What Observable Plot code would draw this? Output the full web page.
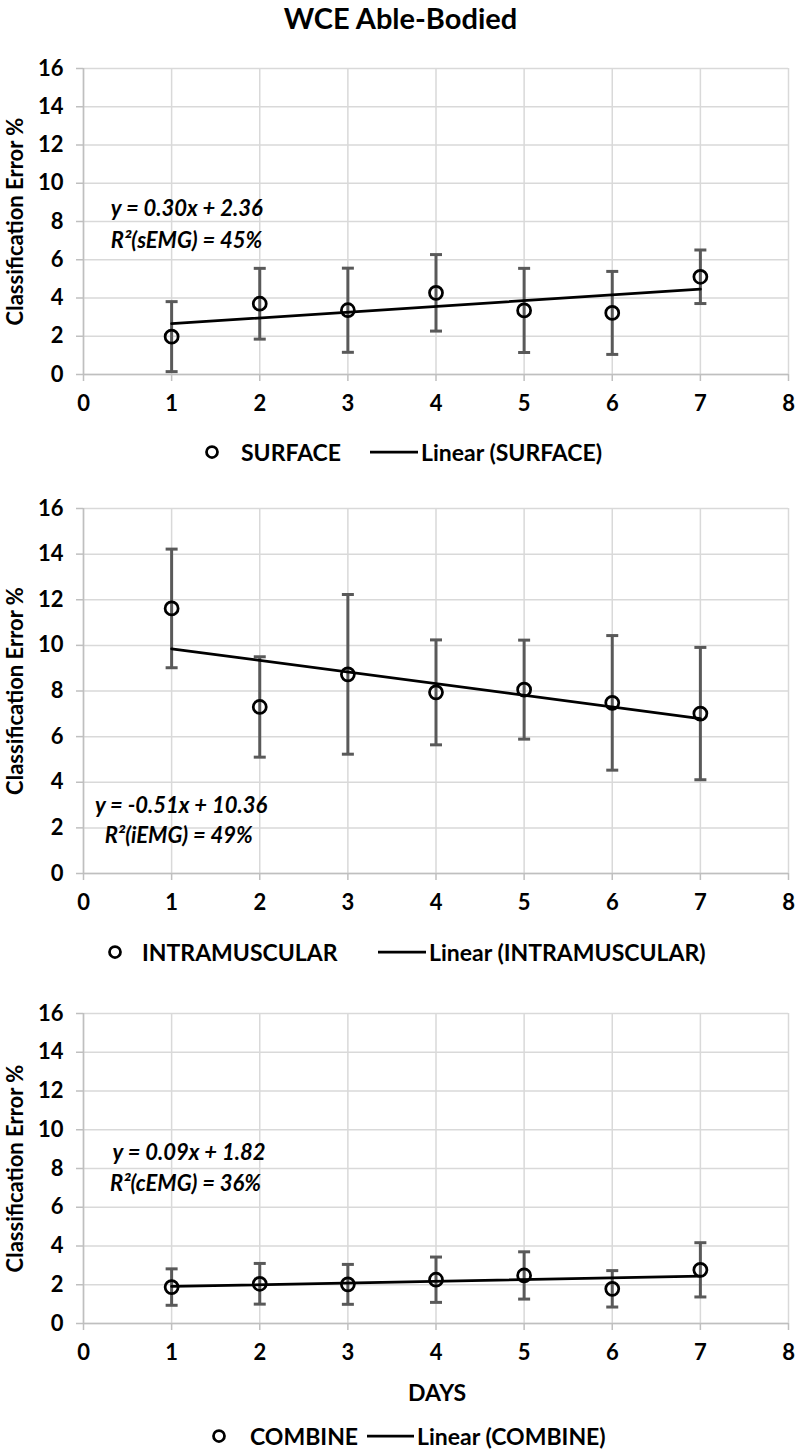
<!DOCTYPE html>
<html><head><meta charset="utf-8">
<script src="https://cdn.jsdelivr.net/npm/d3@7"></script>
<script src="https://cdn.jsdelivr.net/npm/@observablehq/plot@0.6"></script>
<style>
body{margin:0;background:#fff;font-family:Lato,"Open Sans",sans-serif;}
#root{position:relative;width:801px;height:1456px;overflow:hidden;background:#fff;}
.title{position:absolute;left:0;width:801px;text-align:center;top:1px;font-weight:bold;font-size:29px;line-height:34px;color:#000;}
.lg{position:absolute;font-weight:bold;font-size:23px;line-height:28px;white-space:nowrap;color:#000;}
.days{position:absolute;font-weight:bold;font-size:23px;line-height:28px;color:#000;}
</style></head><body><div id="root"></div>
<script>
// ---- data ----
const days = [1, 2, 3, 4, 5, 6, 7];
const xTicks = [0, 1, 2, 3, 4, 5, 6, 7, 8];
const yTicks = [0, 2, 4, 6, 8, 10, 12, 14, 16];

const surfaceMean = [1.98, 3.70, 3.36, 4.27, 3.35, 3.22, 5.11];
const surfaceErr  = [1.83, 1.85, 2.20, 2.00, 2.20, 2.17, 1.40];
const surfaceFit  = {slope: 0.30, intercept: 2.36};
const surfaceEq   = ["y = 0.30x + 2.36", "R²(sEMG) = 45%"];

const intraMean = [11.62, 7.30, 8.73, 7.94, 8.06, 7.48, 7.01];
const intraErr  = [2.60, 2.20, 3.50, 2.30, 2.17, 2.95, 2.90];
const intraFit  = {slope: -0.51, intercept: 10.36};
const intraEq   = ["y = -0.51x + 10.36", "R²(iEMG) = 49%"];

const combineMean = [1.88, 2.05, 2.02, 2.26, 2.48, 1.79, 2.77];
const combineErr  = [0.94, 1.05, 1.03, 1.17, 1.22, 0.94, 1.40];
const combineFit  = {slope: 0.09, intercept: 1.82};
const combineEq   = ["y = 0.09x + 1.82", "R²(cEMG) = 36%"];

const seriesNames = ["SURFACE", "INTRAMUSCULAR", "COMBINE"];
const titleText = "WCE Able-Bodied";
const yLabel = "Classification Error %";
const xLabel = "DAYS";

// ---- drawing ----
const root = document.getElementById("root");
const capSymbol = {draw(ctx) { ctx.moveTo(-6, 0); ctx.lineTo(6, 0); }};
const FONT = "Lato, 'Open Sans', sans-serif";

function panel(mean, err, fit, eq, cfg) {
  const rows = days.map((d, i) => ({day: d, mean: mean[i], lo: mean[i] - err[i], hi: mean[i] + err[i]}));
  const ends = [days[0], days[days.length - 1]].map(d => ({day: d, y: fit.slope * d + fit.intercept}));
  const eqRows = eq.map((t, i) => ({t, x: cfg.eqX[i], y: cfg.eqY[i]}));
  const mt = 20, mb = 44;
  const svg = Plot.plot({
    width: 801, height: mt + cfg.plotH + mb,
    marginTop: mt, marginBottom: mb, marginLeft: 83, marginRight: 13,
    x: {domain: [0, 8]},
    y: {domain: [0, 16]},
    style: {fontFamily: FONT, fontSize: "22px", fontWeight: "bold", color: "#000", background: "transparent", overflow: "visible"},
    marks: [
      Plot.gridX(xTicks, {stroke: "#d9d9d9", strokeOpacity: 1, strokeWidth: 1.5}),
      Plot.gridY(yTicks, {stroke: "#d9d9d9", strokeOpacity: 1, strokeWidth: 1.5}),
      Plot.ruleX([0], {stroke: "#bfbfbf", strokeWidth: 1.5}),
      Plot.ruleY([0], {stroke: "#bfbfbf", strokeWidth: 1.5}),
      Plot.axisX(xTicks, {tickSize: 7, tickPadding: 14, stroke: "#bfbfbf", strokeWidth: 1.5, fill: "#000", label: null, fontSize: 22}),
      Plot.axisY(yTicks, {tickSize: 7, tickPadding: 13, stroke: "#bfbfbf", strokeWidth: 1.5, fill: "#000", fontSize: 22,
        label: yLabel, labelAnchor: "center", labelArrow: "none", labelOffset: 76}),
      Plot.ruleX(rows, {x: "day", y1: "lo", y2: "hi", stroke: "#595959", strokeWidth: 3}),
      Plot.dot(rows, {x: "day", y: "lo", symbol: capSymbol, fill: "none", stroke: "#595959", strokeWidth: 3}),
      Plot.dot(rows, {x: "day", y: "hi", symbol: capSymbol, fill: "none", stroke: "#595959", strokeWidth: 3}),
      Plot.line(ends, {x: "day", y: "y", stroke: "#000", strokeWidth: 2.75}),
      Plot.dot(rows, {x: "day", y: "mean", r: 6.5, fill: "none", stroke: "#000", strokeWidth: 2.75}),
      Plot.text(eqRows, {x: "x", y: "y", text: "t", textAnchor: "start", fontSize: 22, fontStyle: "italic", fontWeight: "bold", fill: "#000"})
    ]
  });
  svg.style.position = "absolute";
  svg.style.left = "0px";
  svg.style.top = (cfg.top - mt) + "px";
  root.appendChild(svg);
}

function legend(name, cfg) {
  const y = cfg.y;
  const mk = document.createElementNS("http://www.w3.org/2000/svg", "svg");
  mk.setAttribute("width", 801); mk.setAttribute("height", 24);
  mk.style.position = "absolute"; mk.style.left = "0px"; mk.style.top = (y - 12) + "px";
  mk.innerHTML = `<circle cx="${cfg.cx}" cy="12" r="5.5" fill="none" stroke="#000" stroke-width="2.75"/>` +
    `<line x1="${cfg.l1}" x2="${cfg.l2}" y1="12" y2="12" stroke="#000" stroke-width="2.75"/>`;
  root.appendChild(mk);
  const a = document.createElement("div"); a.className = "lg"; a.textContent = name;
  a.style.left = cfg.t1 + "px"; a.style.top = (y - 14) + "px"; root.appendChild(a);
  const b = document.createElement("div"); b.className = "lg"; b.textContent = "Linear (" + name + ")";
  b.style.left = cfg.t2 + "px"; b.style.top = (y - 14) + "px"; root.appendChild(b);
}

const t = document.createElement("div"); t.className = "title"; t.textContent = titleText; root.appendChild(t);

panel(surfaceMean, surfaceErr, surfaceFit, surfaceEq, {top: 68, plotH: 306, eqX: [0.31, 0.31], eqY: [8.67, 7.0]});
legend(seriesNames[0], {y: 452, cx: 212, t1: 241, l1: 370, l2: 418, t2: 421});

panel(intraMean, intraErr, intraFit, intraEq, {top: 508, plotH: 365, eqX: [0.13, 0.24], eqY: [2.98, 1.66]});
legend(seriesNames[1], {y: 952, cx: 115, t1: 142, l1: 378, l2: 426, t2: 429});

panel(combineMean, combineErr, combineFit, combineEq, {top: 1013, plotH: 310, eqX: [0.33, 0.30], eqY: [8.8, 7.2]});
const dl = document.createElement("div"); dl.className = "days"; dl.textContent = xLabel;
dl.style.left = "437px"; dl.style.top = "1378px"; dl.style.transform = "translateX(-50%)"; root.appendChild(dl);
legend(seriesNames[2], {y: 1436, cx: 219, t1: 250, l1: 367, l2: 414, t2: 417});
</script></body></html>
